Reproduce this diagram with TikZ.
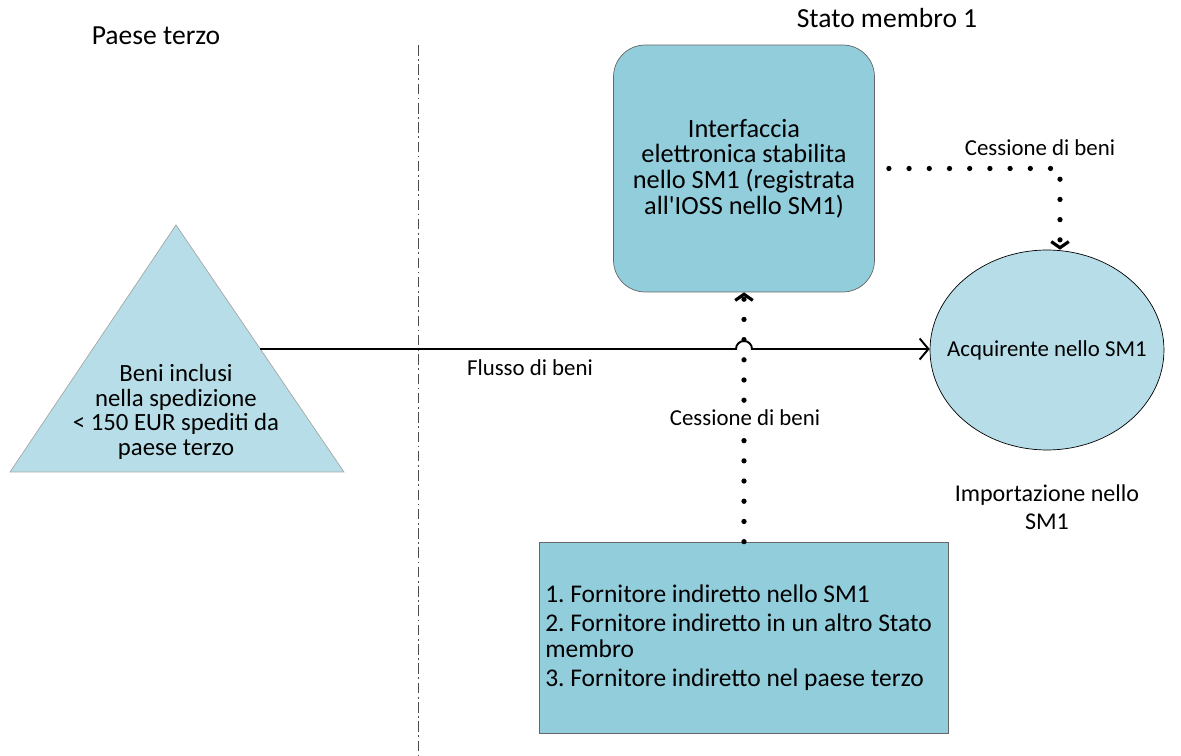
\documentclass[tikz,border=0pt]{standalone}
\usepackage{fontspec}
\setmainfont{Carlito}
\usetikzlibrary{arrows.meta,shapes.geometric}
\definecolor{aquadark}{HTML}{92CDDC}
\definecolor{aqualight}{HTML}{B7DEE8}

\begin{document}
\frenchspacing
\begin{tikzpicture}[x=0.02cm,y=-0.02cm,
    font=\fontsize{13}{14.5}\selectfont,
    head/.style={font=\fontsize{15.7}{18}\selectfont},
    box/.style={draw=gray!80!black,fill=aquadark},
    dots/.style={line width=3pt,line cap=round,dash pattern=on 0pt off 11.5pt,
        -{Straight Barb[length=3.5pt,width=10pt,line width=1.8pt]}}]
    \useasboundingbox (0,0) rectangle (1181,756);
    % headings and border
    \node[head] (paese) at (156,36) {Paese terzo};
    \node[head] (stato) at (887,18) {Stato membro 1};
    \draw[gray!60!black,dash pattern=on 6pt off 2pt on 1pt off 2pt] (418,45) -- (418,756);
    % triangle
    \coordinate (apex) at (176,225);
    \coordinate (bl) at (10,472);
    \coordinate (br) at (344,472);
    \filldraw[fill=aqualight,draw=gray!70] (apex) -- (br) -- (bl) -- cycle;
    \node[align=flush center,font=\fontsize{14.1}{14}\selectfont] (beni) at (176,412) {Beni inclusi\\nella spedizione\\< 150 EUR spediti da\\paese terzo};
    \coordinate (out) at (260,349);
    % boxes
    \node[box,rounded corners=18pt,minimum width=5.22cm,minimum height=4.94cm,align=flush center,
        font=\fontsize{15}{14.6}\selectfont] (iface) at (744,168.5)
        {Interfaccia\\elettronica stabilita\\nello SM1 (registrata\\all\textquotesingle IOSS nello SM1)};
    \node[ellipse,draw=black,fill=aqualight,minimum width=4.68cm,minimum height=4cm] (acq) at (1047,350) {};
    \node (acqtxt) at (acq.center) {Acquirente nello SM1};
    \node[align=flush center,font=\fontsize{13.7}{16}\selectfont] (imp) at (1047,507) {Importazione nello\\SM1};
    \node[box,minimum width=8.1cm,minimum height=3.82cm,text width=7.95cm,align=flush left,
        font=\fontsize{14.5}{15}\selectfont] (forn) at (744,637.5)
        {1. Fornitore indiretto nello SM1\\[1.5pt]
         2. Fornitore indiretto in un altro Stato\\membro\\[1.5pt]
         3. Fornitore indiretto nel paese terzo};
    % connectors
    \draw[dots] (forn.north) -- (iface.south);
    \draw[line width=1.1pt,-{Straight Barb[length=5pt,width=12pt]}] (out) -- (736,349)
        arc[start angle=180,end angle=0,radius=0.16cm] -- (acq.west |- out);
    \node (flusso) at (530,368) {Flusso di beni};
    \node[fill=white,inner sep=1pt] (cess1) at (745,418) {Cessione di beni};
    \coordinate (turn) at (1060,168.5);
    \draw[dots,shorten <=8pt] (iface.east) -- (turn) -- (turn |- acq.north);
    \node (cess2) at (1040,148) {Cessione di beni};
\end{tikzpicture}
\end{document}
